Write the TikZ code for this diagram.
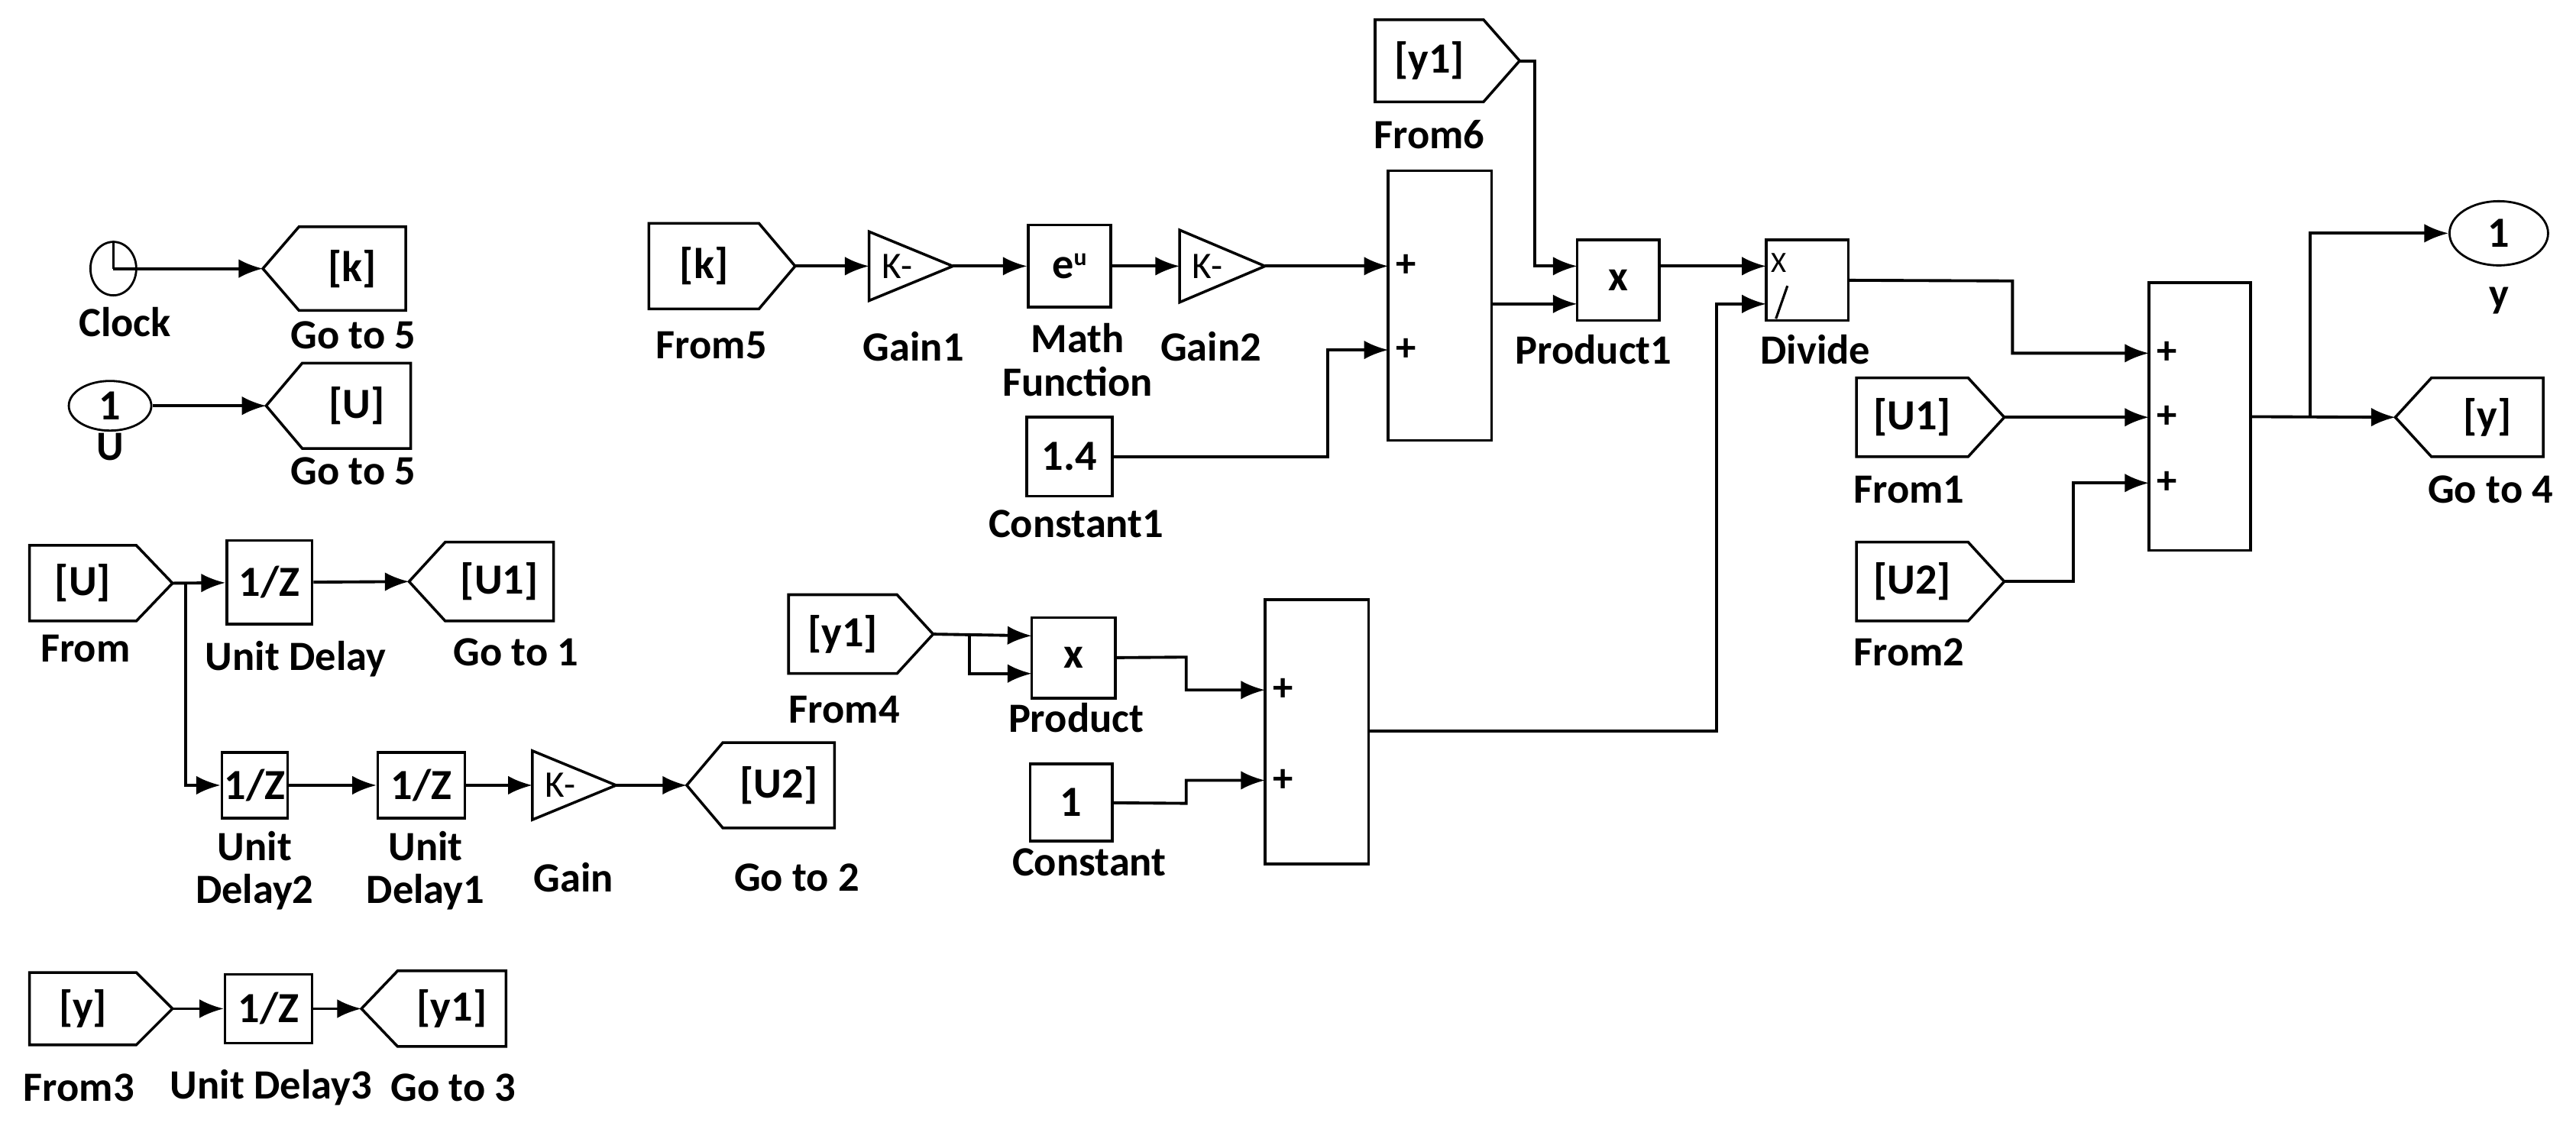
\documentclass[tikz,border=0pt]{standalone}
\usepackage{fontspec}
\setmainfont{Carlito}
\usetikzlibrary{arrows.meta,shapes.geometric}
\newcommand\Blk[6]{\node[draw,line width=1pt,inner sep=0,minimum width={(#4-#2)*0.0215cm},minimum height={(#5-#3)*0.0215cm},txt] (#1) at ({(#2+#4)/2},{(#3+#5)/2}) {#6};}
\newcommand\FromTag[6]{\draw[line width=1pt] (#2,#3) -- (#4-22,#3) -- (#4,{(#3+#5)/2}) -- (#4-22,#5) -- (#2,#5) -- cycle;
 \node[txt] (#1) at ({(#2+#4-22)/2},{(#3+#5)/2}) {#6}; \coordinate (#1-o) at (#4,{(#3+#5)/2});}
\newcommand\GotoTag[6]{\draw[line width=1pt] (#4,#3) -- (#2+22,#3) -- (#2,{(#3+#5)/2}) -- (#2+22,#5) -- (#4,#5) -- cycle;
 \node[txt] (#1) at ({(#2+22+#4)/2},{(#3+#5)/2}) {#6}; \coordinate (#1-i) at (#2,{(#3+#5)/2});}
\newcommand\GainT[5]{\draw[line width=1pt] (#2,#3) -- (#4,{(#3+#5)/2}) -- (#2,#5) -- cycle;
 \node[txt,font=\fontsize{14}{15}\selectfont] (#1) at ({#2+17},{(#3+#5)/2}) {K-};
 \coordinate (#1-i) at (#2,{(#3+#5)/2}); \coordinate (#1-o) at (#4,{(#3+#5)/2});}
\begin{document}
\begin{tikzpicture}[x=0.0215cm,y=-0.0215cm,
 w/.style={line width=1.1pt,-{Latex[length=9pt,width=7pt]}},
 ln/.style={line width=1.1pt},
 lbl/.style={font=\fontsize{15.5}{16}\selectfont\bfseries, align=center, inner sep=0},
 txt/.style={font=\fontsize{16}{17}\selectfont\bfseries, inner sep=0},
 pl/.style={font=\fontsize{15}{16}\selectfont\bfseries, inner sep=0}]
\useasboundingbox (0,0) rectangle (1568,685);
% left column
\node[draw,ellipse,line width=0.8pt,minimum width=0.6cm,minimum height=0.7cm,inner sep=0] (clk) at (69,163.5) {};
\draw[line width=0.8pt] (clk.center) -- (clk.north);
\GotoTag{gk}{160}{138}{247}{189}{[k]}
\draw[w] (clk.center) -- (gk-i);
\node[draw,ellipse,line width=0.8pt,minimum width=1.08cm,minimum height=0.65cm,inner sep=0,txt] (uin) at (67,247) {1};
\GotoTag{gu}{162}{221}{250}{273}{[U]}
\draw[w] (uin) -- (gu-i);
\FromTag{fu}{18}{332}{105}{378}{[U]}
\Blk{ud}{138}{329}{190}{380}{1/Z}
\GotoTag{go1}{249}{330}{337}{378}{[U1]}
\draw[w] (fu-o) -- (ud);
\draw[w] (ud) -- (go1-i);
\Blk{ud2}{135}{458}{175}{498}{1/Z}
\Blk{ud1}{230}{458}{283}{498}{1/Z}
\GainT{gn}{324}{457}{375}{499}
\GotoTag{go2}{418}{452}{508}{504}{[U2]}
\coordinate (br1) at (113,355);
\draw[w] (br1) |- (ud2);
\draw[w] (ud2) -- (ud1);
\draw[w] (ud1) -- (gn-i);
\draw[w] (gn-o) -- (go2-i);
\FromTag{f3}{18}{592}{105}{636}{[y]}
\Blk{ud3}{137}{593}{190}{635}{1/Z}
\GotoTag{go3}{220}{591}{308}{637}{[y1]}
\draw[w] (f3-o) -- (ud3);
\draw[w] (ud3) -- (go3-i);
% upper middle
\FromTag{f5}{395}{136}{484}{188}{[k]}
\GainT{gn1}{529}{141}{580}{183}
\Blk{mf}{626}{137}{676}{187}{e\raisebox{0.6ex}{\fontsize{9}{9}\selectfont u}}
\GainT{gn2}{718}{140}{770}{184}
\Blk{s1}{845}{104}{908}{268}{}
\coordinate (s1a) at (845,162); \coordinate (s1b) at (845,213); \coordinate (s1o) at (908,185);
\node[pl] (s1p1) at (856,162) {+}; \node[pl] (s1p2) at (856,213) {+};
\draw[w] (f5-o) -- (gn1-i);
\draw[w] (gn1-o) -- (mf);
\draw[w] (mf) -- (gn2-i);
\draw[w] (gn2-o) -- (s1a);
\Blk{c1}{625}{254}{677}{302}{1.4}
\coordinate (k1) at (808,278);
\draw[w] (c1) -- (k1) |- (s1b);
\FromTag{f6}{837}{12}{925}{62}{[y1]}
\Blk{p1}{960}{146}{1010}{195}{x}
\coordinate (p1a) at (960,162); \coordinate (p1b) at (960,185); \coordinate (p1o) at (1010,162);
\coordinate (k2) at (934,37);
\draw[w] (f6-o) -- (k2) |- (p1a);
\draw[w] (s1o) -- (p1b);
\Blk{dv}{1075}{146}{1125}{195}{}
\coordinate (dva) at (1075,162); \coordinate (dvb) at (1075,185);
\node[font=\fontsize{11}{12}\selectfont, inner sep=0] (dvx) at (1083,160) {X};
\draw[line width=0.9pt] (1081,194) -- (1088,174);
\draw[w] (p1o) -- (dva);
% right
\Blk{s3}{1308}{172}{1370}{335}{}
\coordinate (s3a) at (1308,215); \coordinate (s3b) at (1308,254); \coordinate (s3c) at (1308,294);
\node[pl] (s3p1) at (1319,215) {+}; \node[pl] (s3p2) at (1319,254) {+}; \node[pl] (s3p3) at (1319,294) {+};
\coordinate (k3) at (1225,171);
\draw[w] (dv) -- (k3) |- (s3a);
\FromTag{fu1}{1130}{230}{1220}{278}{[U1]}
\FromTag{fu2}{1130}{330}{1220}{378}{[U2]}
\coordinate (k5) at (1262,354);
\draw[w] (fu1-o) -- (s3b);
\draw[w] (fu2-o) -- (k5) |- (s3c);
\node[draw,ellipse,line width=0.8pt,minimum width=1.29cm,minimum height=0.84cm,inner sep=0,txt] (yout) at (1521,142) {1};
\GotoTag{go4}{1458}{230}{1548}{278}{[y]}
\coordinate (k6) at (1406,254);
\draw[w] (s3) -- (go4-i);
\draw[w] (k6) |- (yout);
% lower middle
\FromTag{f4}{480}{362}{568}{410}{[y1]}
\Blk{pr}{628}{376}{679}{425}{x}
\coordinate (pa) at (628,387); \coordinate (pb) at (628,410);
\coordinate (k7) at (590,386);
\draw[w] (f4-o) -- (pa);
\draw[w] (k7) |- (pb);
\Blk{s2}{770}{365}{833}{526}{}
\coordinate (s2a) at (770,420); \coordinate (s2b) at (770,475); \coordinate (s2o) at (833,445);
\node[pl] (s2p1) at (781,420) {+}; \node[pl] (s2p2) at (781,475) {+};
\coordinate (k8) at (722,400);
\draw[w] (pr) -- (k8) |- (s2a);
\Blk{c0}{627}{465}{677}{512}{1}
\coordinate (k9) at (722,489);
\draw[w] (c0) -- (k9) |- (s2b);
\coordinate (k4) at (1045,445);
\draw[w] (s2o) -- (k4) |- (dvb);
% labels
\node[lbl] (l1) at (76,196) {Clock};
\node[lbl] (l2) at (215,204) {Go to 5};
\node[lbl] (l3) at (67,272) {U};
\node[lbl] (l4) at (215,287) {Go to 5};
\node[lbl] (l5) at (52,395) {From};
\node[lbl] (l6) at (180,401) {Unit Delay};
\node[lbl] (l7) at (314,397) {Go to 1};
\node[lbl] (l8) at (155,530) {Unit\\Delay2};
\node[lbl] (l9) at (259,530) {Unit\\Delay1};
\node[lbl] (l10) at (349,534) {Gain};
\node[lbl] (l11) at (485,534) {Go to 2};
\node[lbl] (l12) at (48,662) {From3};
\node[lbl] (l13) at (165,662) {Unit Delay3};
\node[lbl] (l14) at (276,662) {Go to 3};
\node[lbl] (l15) at (433,210) {From5};
\node[lbl] (l16) at (556,211) {Gain1};
\node[lbl] (l17) at (656,219) {Math\\Function};
\node[lbl] (l18) at (737,211) {Gain2};
\node[lbl] (l19) at (655,319) {Constant1};
\node[lbl] (l20) at (870,82) {From6};
\node[lbl] (l21) at (970,213) {Product1};
\node[lbl] (l22) at (1105,213) {Divide};
\node[lbl] (l23) at (1521,183) {y};
\node[lbl] (l24) at (1162,298) {From1};
\node[lbl] (l25) at (1516,298) {Go to 4};
\node[lbl] (l26) at (1162,397) {From2};
\node[lbl] (l27) at (514,432) {From4};
\node[lbl] (l28) at (655,437) {Product};
\node[lbl] (l29) at (663,525) {Constant};
\end{tikzpicture}
\end{document}
